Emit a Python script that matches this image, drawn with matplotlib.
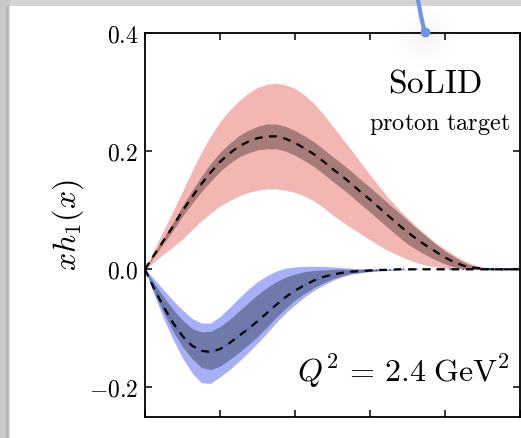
import numpy as np
import matplotlib
matplotlib.use("Agg")
import matplotlib.pyplot as plt
from matplotlib.lines import Line2D
from matplotlib.patches import Rectangle

plt.rcParams['mathtext.fontset'] = 'cm'
plt.rcParams['font.family'] = 'DejaVu Serif'

# x grid, step 0.025
x = [0.0, 0.025, 0.05, 0.075, 0.1, 0.125, 0.15, 0.175, 0.2,
     0.225, 0.25, 0.275, 0.3, 0.325, 0.35, 0.375, 0.4, 0.425, 0.45, 0.475, 0.5,
     0.525, 0.55, 0.575, 0.6, 0.625, 0.65, 0.675, 0.7, 0.725, 0.75, 0.775, 0.8,
     0.825, 0.85, 0.875, 0.9, 0.925, 0.95, 0.975, 1.0]

# u quark (red)
u_central = [0.0, 0.025, 0.049, 0.073, 0.099, 0.122, 0.144, 0.164, 0.182,
             0.196, 0.208, 0.216, 0.222, 0.225, 0.225, 0.221, 0.214, 0.205, 0.195, 0.183, 0.170,
             0.158, 0.145, 0.131, 0.118, 0.104, 0.090, 0.076, 0.063, 0.051, 0.040, 0.030, 0.020,
             0.012, 0.006, 0.003, 0.001, 0.0, 0.0, 0.0, 0.0]
u_outer_hi = [0.0, 0.034, 0.067, 0.099, 0.132, 0.166, 0.198, 0.226, 0.250,
              0.269, 0.285, 0.298, 0.308, 0.313, 0.315, 0.312, 0.306, 0.295, 0.281, 0.263, 0.243,
              0.222, 0.202, 0.181, 0.160, 0.140, 0.120, 0.103, 0.087, 0.072, 0.058, 0.045, 0.034,
              0.024, 0.015, 0.008, 0.004, 0.002, 0.001, 0.0, 0.0]
u_outer_lo = [0.0, 0.013, 0.026, 0.038, 0.051, 0.067, 0.082, 0.095, 0.107,
              0.116, 0.124, 0.130, 0.134, 0.136, 0.136, 0.134, 0.130, 0.124, 0.116, 0.105, 0.092,
              0.081, 0.070, 0.060, 0.050, 0.040, 0.031, 0.024, 0.017, 0.011, 0.007, 0.004, 0.002,
              0.001, 0.0, 0.0, 0.0, 0.0, 0.0, 0.0, 0.0]
u_inner_hi = [0.0, 0.028, 0.054, 0.080, 0.108, 0.133, 0.157, 0.179, 0.198,
              0.213, 0.226, 0.235, 0.242, 0.246, 0.246, 0.242, 0.235, 0.226, 0.216, 0.204, 0.191,
              0.179, 0.166, 0.152, 0.139, 0.125, 0.111, 0.097, 0.083, 0.069, 0.056, 0.043, 0.031,
              0.021, 0.012, 0.006, 0.003, 0.001, 0.0, 0.0, 0.0]
u_inner_lo = [0.0, 0.022, 0.044, 0.066, 0.090, 0.111, 0.131, 0.149, 0.166,
              0.179, 0.190, 0.197, 0.202, 0.204, 0.204, 0.200, 0.193, 0.184, 0.174, 0.162, 0.149,
              0.137, 0.124, 0.110, 0.097, 0.083, 0.069, 0.056, 0.043, 0.033, 0.024, 0.016, 0.009,
              0.004, 0.001, 0.0, 0.0, 0.0, 0.0, 0.0, 0.0]

# d quark (blue)
d_central = [0.0, -0.034, -0.064, -0.091, -0.113, -0.129, -0.138, -0.140, -0.135,
             -0.125, -0.113, -0.101, -0.088, -0.074, -0.060, -0.047, -0.036, -0.027, -0.019, -0.013, -0.009,
             -0.006, -0.004, -0.003, -0.002, -0.001, -0.001, 0.0, 0.0, 0.0, 0.0, 0.0, 0.0,
             0.0, 0.0, 0.0, 0.0, 0.0, 0.0, 0.0, 0.0]
d_outer_hi = [0.0, -0.017, -0.035, -0.053, -0.069, -0.083, -0.091, -0.091, -0.080,
              -0.065, -0.049, -0.034, -0.021, -0.011, -0.003, 0.002, 0.004, 0.005, 0.005, 0.005, 0.004,
              0.003, 0.002, 0.001, 0.001, 0.0, 0.0, 0.0, 0.0, 0.0, 0.0, 0.0, 0.0,
              0.0, 0.0, 0.0, 0.0, 0.0, 0.0, 0.0, 0.0]
d_outer_lo = [0.0, -0.044, -0.084, -0.119, -0.150, -0.175, -0.192, -0.193, -0.182,
              -0.170, -0.156, -0.141, -0.125, -0.108, -0.090, -0.074, -0.060, -0.047, -0.036, -0.027, -0.019,
              -0.013, -0.008, -0.006, -0.004, -0.003, -0.002, -0.001, -0.001, 0.0, 0.0, 0.0, 0.0,
              0.0, 0.0, 0.0, 0.0, 0.0, 0.0, 0.0, 0.0]
d_inner_hi = [0.0, -0.024, -0.047, -0.068, -0.086, -0.100, -0.106, -0.105, -0.097,
              -0.085, -0.071, -0.057, -0.043, -0.031, -0.021, -0.013, -0.008, -0.004, -0.002, -0.001, 0.0,
              0.0, 0.0, 0.0, 0.0, 0.0, 0.0, 0.0, 0.0, 0.0, 0.0, 0.0, 0.0,
              0.0, 0.0, 0.0, 0.0, 0.0, 0.0, 0.0, 0.0]
d_inner_lo = [0.0, -0.039, -0.074, -0.105, -0.131, -0.151, -0.166, -0.170, -0.164,
              -0.153, -0.141, -0.128, -0.114, -0.098, -0.081, -0.066, -0.052, -0.041, -0.031, -0.023, -0.016,
              -0.011, -0.007, -0.005, -0.003, -0.002, -0.001, 0.0, 0.0, 0.0, 0.0, 0.0, 0.0,
              0.0, 0.0, 0.0, 0.0, 0.0, 0.0, 0.0, 0.0]

y_ticks = [-0.2, 0.0, 0.2, 0.4]
y_tick_labels = [r"$-0.2$", r"$0.0$", r"$0.2$", r"$0.4$"]
x_ticks = [0.0, 0.2, 0.4, 0.6, 0.8, 1.0]

W, H = 521, 438
fig = plt.figure(figsize=(W / 100, H / 100), dpi=100)

# window frame around the plot (pixel coords)
frame = fig.add_axes([0, 0, 1, 1], zorder=0)
frame.set_xlim(0, W)
frame.set_ylim(H, 0)
frame.axis('off')
frame.add_patch(Rectangle((0, 0), W, 6, color='#d5d5d5', lw=0))
frame.add_patch(Rectangle((0, 0), 10, H, color='#c9c9c9', lw=0))
for i, c in enumerate(['#c4c4c4', '#bababa', '#b4b4b4', '#c2c2c2', '#d8d8d8']):
    frame.add_patch(Rectangle((5 + i, 6), 1, H, color=c, lw=0))
# soft shadow behind the pen stroke
gy, gx = np.mgrid[0:80, 0:80]
r = np.hypot(gx - 40, gy - 40) / 40
glow = np.zeros((80, 80, 4))
glow[..., :3] = 0.6
glow[..., 3] = np.clip(1 - r, 0, 1) ** 2 * 0.12
frame.imshow(glow, extent=(385, 465, 75, 0), zorder=1)

ax = fig.add_axes([145 / W, 1 - 417 / H, 375 / W, 384 / H], zorder=1)
ax.patch.set_alpha(0)

ax.fill_between(x, u_outer_lo, u_outer_hi, color='#f3b7b3', lw=0)
ax.fill_between(x, u_inner_lo, u_inner_hi, color='#a67c7a', lw=0)
ax.fill_between(x, d_outer_lo, d_outer_hi, color='#a7aff6', lw=0)
ax.fill_between(x, d_inner_lo, d_inner_hi, color='#707aaa', lw=0)

ax.plot(x, u_central, color='#e0503c', lw=1.2, ls=(0, (1, 3)))
ax.plot(x, u_central, color='black', lw=1.6, dashes=(3.5, 3))
ax.plot(x, d_central, color='#3a5ce0', lw=1.2, ls=(0, (1, 3)))
ax.plot(x, d_central, color='black', lw=1.6, dashes=(3.5, 3))

ax.set_xlim(0, 1)
ax.set_ylim(-0.25, 0.4)
ax.set_xticks(x_ticks)
ax.set_xticklabels([])
ax.set_yticks(y_ticks)
ax.set_yticklabels(y_tick_labels, fontsize=17)
ax.tick_params(direction='in', length=5, width=1.1, top=True, right=True, pad=5)
for s in ax.spines.values():
    s.set_linewidth(1.3)

ax.set_ylabel(r"$xh_1(x)$", fontsize=23, labelpad=2)

ax.text(0.773, 0.846, r"$\mathrm{SoLID}$", transform=ax.transAxes, fontsize=24, ha='center')
ax.text(0.787, 0.747, r"$\mathrm{proton\ target}$", transform=ax.transAxes, fontsize=17.5, ha='center')
ax.text(0.973, 0.091, r"$Q^2\,=\,2.4\;\mathrm{GeV}^2$", transform=ax.transAxes, fontsize=23, ha='right')

# pen stroke over the top edge
fig.add_artist(Line2D([418, 421, 424.5], [0, 16, 32], color='#6b93e6', lw=3,
                      solid_capstyle='round', transform=frame.transData, zorder=5))
fig.add_artist(Line2D([424.5], [32], marker='o', ms=6, color='#6b93e6',
                      transform=frame.transData, zorder=5))

fig.savefig('out.png', dpi=100)
